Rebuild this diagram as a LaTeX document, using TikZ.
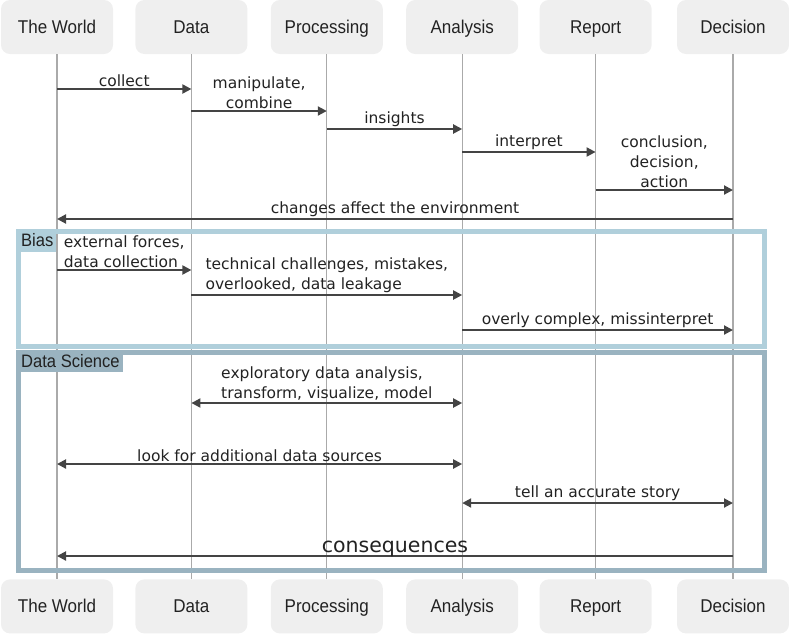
\documentclass[tikz,border=0pt]{standalone}
\usepackage{fontspec}
\setmainfont{DejaVu Sans}
\newfontfamily\actorfont[FakeStretch=0.92]{Liberation Sans}
\usepackage{xcolor}
\usetikzlibrary{positioning, arrows.meta}

\definecolor{actorfill}{HTML}{EFEFEF}
\definecolor{lifegray}{HTML}{AAAAAA}
\definecolor{msggray}{HTML}{444444}
\definecolor{textgray}{HTML}{222222}
\definecolor{biasblue}{HTML}{B0CFDB}
\definecolor{dsgray}{HTML}{9AB3C0}

\tikzset{
    actor/.style={rectangle, rounded corners=9pt, fill=actorfill, minimum width=112pt, minimum height=54pt, text height=13pt, text depth=0pt, text=textgray, font=\actorfont\fontsize{18.5}{20}\selectfont},
    lifeline/.style={draw=lifegray, line width=1.2pt},
    msg/.style={draw=msggray, line width=2pt, -{Triangle[length=9pt,width=9pt]}},
    twoway/.style={draw=msggray, line width=2pt, {Triangle[length=9pt,width=9pt]}-{Triangle[length=9pt,width=9pt]}},
    lbl/.style={text=textgray, inner sep=1pt, above=0.5pt, font=\fontsize{15.5}{20}\selectfont},
    frame/.style={rectangle, line width=5pt, minimum width=746pt, anchor=north west, inner sep=0pt, outer sep=0pt},
    framelbl/.style={rectangle, anchor=north west, inner xsep=3pt, inner ysep=0pt, minimum height=20pt, text height=13pt, text depth=3pt, text=textgray, font=\actorfont\fontsize{18}{20}\selectfont}
}

\begin{document}
\begin{tikzpicture}[x=1pt, y=-1pt]
        \useasboundingbox (0,0) rectangle (789,633);
        % Participants, top row
        \node[actor] (world) at (57,27) {The World};
        \node[actor, right=22pt of world] (data) {Data};
        \node[actor, right=23pt of data] (proc) {Processing};
        \node[actor, right=23pt of proc] (analysis) {Analysis};
        \node[actor, right=21pt of analysis] (report) {Report};
        \node[actor, right=25pt of report] (decision) {Decision};
        % Participants, bottom row
        \node[actor, below=525pt of world] (world2) {The World};
        \node[actor, below=525pt of data] (data2) {Data};
        \node[actor, below=525pt of proc] (proc2) {Processing};
        \node[actor, below=525pt of analysis] (analysis2) {Analysis};
        \node[actor, below=525pt of report] (report2) {Report};
        \node[actor, below=525pt of decision] (decision2) {Decision};
        % Lifelines
        \draw[lifeline] (world) -- (world2);
        \draw[lifeline] (data) -- (data2);
        \draw[lifeline] (proc) -- (proc2);
        \draw[lifeline] (analysis) -- (analysis2);
        \draw[lifeline] (report) -- (report2);
        \draw[lifeline] (decision) -- (decision2);
        % Frames
        \node[frame, draw=biasblue, minimum height=115pt] (bias) at (18,231.5) {};
        \node[framelbl, fill=biasblue] (biaslbl) at (bias.north west) {Bias};
        \node[frame, draw=dsgray, minimum height=218.5pt] (ds) at (18,352) {};
        \node[framelbl, fill=dsgray] (dslbl) at (ds.north west) {Data Science};
        % Rows of messages
        \coordinate (r1) at (0,89);
        \coordinate (r2) at (0,111);
        \coordinate (r3) at (0,129);
        \coordinate (r4) at (0,152);
        \coordinate (r5) at (0,190);
        \coordinate (r6) at (0,219);
        \coordinate (r7) at (0,270);
        \coordinate (r8) at (0,295);
        \coordinate (r9) at (0,330);
        \coordinate (r10) at (0,403);
        \coordinate (r11) at (0,464);
        \coordinate (r12) at (0,503);
        \coordinate (r13) at (0,556);
        % Main flow
        \draw[msg] (world |- r1) -- (data |- r1) node[lbl, midway] {collect};
        \draw[msg] (data |- r2) -- (proc |- r2) node[lbl, midway, align=center] {manipulate,\\combine};
        \draw[msg] (proc |- r3) -- (analysis |- r3) node[lbl, midway] {insights};
        \draw[msg] (analysis |- r4) -- (report |- r4) node[lbl, midway] {interpret};
        \draw[msg] (report |- r5) -- (decision |- r5) node[lbl, midway, align=center] {conclusion,\\decision,\\action};
        \draw[msg] (decision |- r6) -- (world |- r6) node[lbl, midway] {changes affect the environment};
        % Bias
        \draw[msg] (world |- r7) -- (data |- r7) node[lbl, midway, align=left] {external forces,\\data collection};
        \draw[msg] (data |- r8) -- (analysis |- r8) node[lbl, midway, align=left] {technical challenges, mistakes,\\overlooked, data leakage};
        \draw[msg] (analysis |- r9) -- (decision |- r9) node[lbl, midway] {overly complex, missinterpret};
        % Data Science
        \draw[twoway] (data |- r10) -- (analysis |- r10) node[lbl, midway, align=left] {exploratory data analysis,\\transform, visualize, model};
        \draw[twoway] (world |- r11) -- (analysis |- r11) node[lbl, midway] {look for additional data sources};
        \draw[twoway] (analysis |- r12) -- (decision |- r12) node[lbl, midway] {tell an accurate story};
        \draw[msg] (decision |- r13) -- (world |- r13) node[lbl, midway, above=-2.5pt, font=\fontsize{20.5}{24}\selectfont] {consequences};
    \end{tikzpicture}
\end{document}
